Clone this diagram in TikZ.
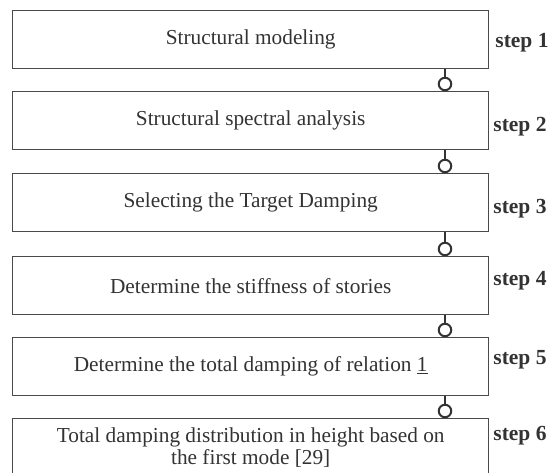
\documentclass[tikz,border=0pt]{standalone}
\usepackage{fontspec}
\setmainfont{Liberation Serif}
\definecolor{linegray}{HTML}{4A4A4A}
\definecolor{textgray}{HTML}{333333}
\begin{document}
\begin{tikzpicture}[x=1pt,y=-1pt,
  box/.style={draw=linegray, line width=1.4pt, minimum width=476pt, minimum height=58pt,
    inner sep=0pt, font=\fontsize{21.3}{22}\selectfont, text=textgray, align=center, anchor=north west},
  joint/.style={circle, draw=textgray, line width=2pt, minimum size=12.5pt, inner sep=0pt},
  stem/.style={draw=textgray, line width=2pt},
  steplabel/.style={font=\fontsize{21.5}{24}\selectfont\bfseries, text=textgray, anchor=center}]
\useasboundingbox (0,0) rectangle (550,473);
\clip (0,0) rectangle (550,473);
\fill[white] (0,0) rectangle (550,473);
\node[box] (b1) at (12,10) {Structural modeling};
\node[box] (b2) at (12,91) {Structural spectral analysis};
\node[box] (b3) at (12,173) {Selecting the Target Damping};
\node[box] (b4) at (12,256) {Determine the stiffness of stories};
\node[box] (b5) at (12,337) {Determine the total damping of relation \underline{1}};
\node[box] (b6) at (12,418) {Total damping distribution in height based on\\the first mode [29]};
\node[joint] (c1) at (445,84) {};
\node[joint] (c2) at (445,166) {};
\node[joint] (c3) at (445,249) {};
\node[joint] (c4) at (445,330) {};
\node[joint] (c5) at (445,411) {};
\draw[stem] (c1.north) -- (c1 |- b1.south);
\draw[stem] (c2.north) -- (c2 |- b2.south);
\draw[stem] (c3.north) -- (c3 |- b3.south);
\draw[stem] (c4.north) -- (c4 |- b4.south);
\draw[stem] (c5.north) -- (c5 |- b5.south);
\node[steplabel] (s1) at (522,43) {step 1};
\node[steplabel] (s2) at (520,127) {step 2};
\node[steplabel] (s3) at (520,209) {step 3};
\node[steplabel] (s4) at (520,281) {step 4};
\node[steplabel] (s5) at (520,360) {step 5};
\node[steplabel] (s6) at (520,436) {step 6};
\end{tikzpicture}
\end{document}
